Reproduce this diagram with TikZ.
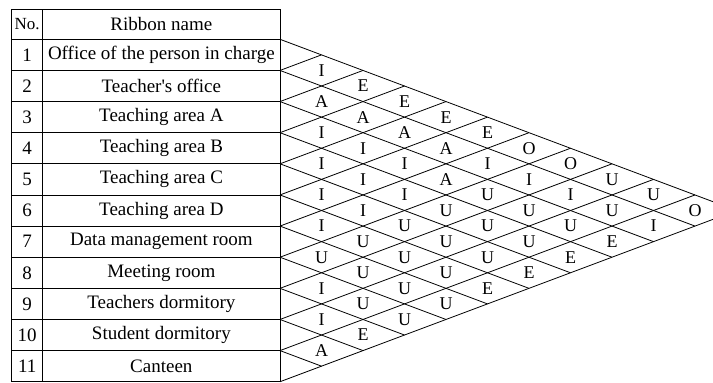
\documentclass[tikz,border=0pt]{standalone}
\usepackage{fontspec}
\setmainfont{Liberation Serif}
\newfontfamily\nomapfont{Liberation Serif}
\begin{document}
\begin{tikzpicture}[x=1pt,y=-1pt,
  tline/.style={line width=0.9pt},
  gline/.style={line width=0.8pt},
  cell/.style={font=\fontsize{19}{22}\selectfont, inner sep=0pt},
  headno/.style={font=\fontsize{17}{20}\selectfont, inner sep=0pt},
  rel/.style={font=\fontsize{18}{20}\selectfont, inner sep=0pt}]
\clip (0,0) rectangle (713,383);
\def\xl{11.7}\def\xm{42.7}\def\xr{280}
\def\ytop{9}\def\yz{39.3}\def\hh{31.13}\def\ww{41.5}
% grid points
\foreach \k in {0,...,11} {
  \coordinate (P\k) at (\xr,{\yz+\k*\hh});
  \coordinate (L\k) at (\xl,{\yz+\k*\hh});
  \coordinate (T\k) at ({\xr+\k*\ww},{\yz+\k*\hh/2});
  \coordinate (B\k) at ({\xr+(11-\k)*\ww},{\yz+(11+\k)*\hh/2});
}
\coordinate (TL) at (\xl,\ytop);
\coordinate (TM) at (\xm,\ytop);
\coordinate (TR) at (\xr,\ytop);
\coordinate (BM) at (\xm,{\yz+11*\hh});
% table
\draw[tline] (TL) -- (TR) -- (P11) -- (L11) -- cycle;
\draw[tline] (TM) -- (BM);
\foreach \k in {0,...,10} \draw[tline] (L\k) -- (P\k);
% header
\node[headno] (hno) at ({(\xl+\xm)/2},{(\ytop+\yz)/2}) {No.};
\node[cell] (hname) at ({(\xm+\xr)/2},{(\ytop+\yz)/2}) {Ribbon name};
% rows
\foreach \n [count=\i] in {Office of the person in charge,
  Teacher{\nomapfont'}s office, Teaching area A, Teaching area B,
  Teaching area C, Teaching area D, Data management room, Meeting room,
  Teachers dormitory, Student dormitory, Canteen} {
  \node[cell] (num\i) at ({(\xl+\xm)/2},{\yz+(\i-0.5)*\hh}) {\i};
  \node[cell] (name\i) at ({(\xm+\xr)/2},{\yz+(\i-0.5)*\hh}) {\n};
}
% diamond grid
\foreach \k in {1,...,11} \draw[gline] (P\k) -- (T\k);
\foreach \k in {0,...,10} \draw[gline] (P\k) -- (B\k);
% relationship labels
\foreach \i/\j/\t in {
  1/2/I, 2/3/A, 3/4/I, 4/5/I, 5/6/I, 6/7/I, 7/8/U, 8/9/I, 9/10/I, 10/11/A,
  1/3/E, 2/4/A, 3/5/I, 4/6/I, 5/7/I, 6/8/U, 7/9/U, 8/10/U, 9/11/E,
  1/4/E, 2/5/A, 3/6/I, 4/7/I, 5/8/U, 6/9/U, 7/10/U, 8/11/U,
  1/5/E, 2/6/A, 3/7/A, 4/8/U, 5/9/U, 6/10/U, 7/11/U,
  1/6/E, 2/7/I, 3/8/U, 4/9/U, 5/10/U, 6/11/E,
  1/7/O, 2/8/I, 3/9/U, 4/10/U, 5/11/E,
  1/8/O, 2/9/I, 3/10/U, 4/11/E,
  1/9/U, 2/10/U, 3/11/E,
  1/10/U, 2/11/I,
  1/11/O} {
  \node[rel] (r\i-\j) at ({\xr+(\j-\i)*\ww},{\yz+(\i+\j-1)*\hh/2}) {\t};
}
\end{tikzpicture}
\end{document}
